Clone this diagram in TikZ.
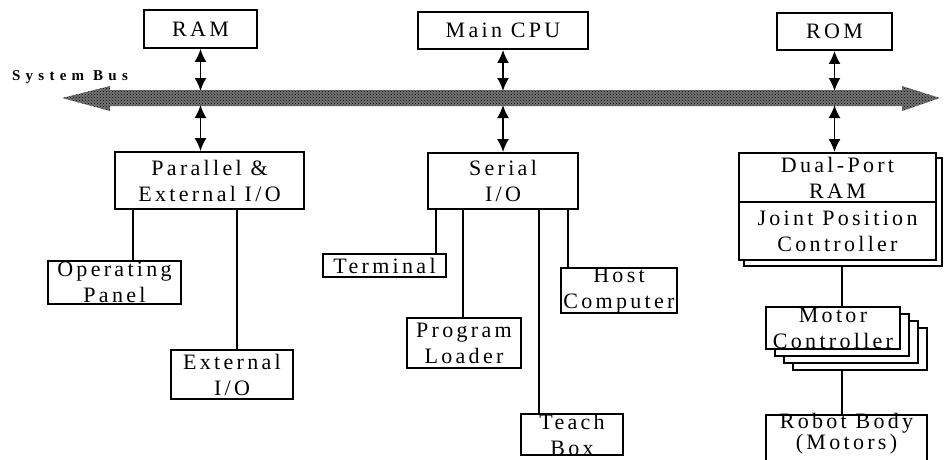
\documentclass[tikz,border=0pt]{standalone}
\usepackage{fontspec}
\setmainfont{Liberation Serif}
\newfontfamily\blkfont{Liberation Serif}[LetterSpace=15]
\newfontfamily\busfont{Liberation Serif}[LetterSpace=35]
\usetikzlibrary{arrows.meta,positioning,calc,patterns}

\begin{document}
\begin{tikzpicture}[x=1pt,y=-1pt,
  blk/.style={draw,line width=1.8pt,fill=white,align=center,inner sep=0pt,
    font=\blkfont\fontsize{22}{26}\selectfont},
  dblarr/.style={{Latex[length=13pt,width=12pt]}-{Latex[length=13pt,width=12pt]},line width=1.8pt},
  link/.style={line width=1.1pt}
]
  \useasboundingbox (0,0) rectangle (944,459);
  \clip (0,0) rectangle (944,459);
  % system bus
  \fill[black!55] (62,98) -- (110,86) -- (110,90) -- (902,90) -- (902,86) -- (940,98)
    -- (902,111) -- (902,106) -- (110,106) -- (110,111) -- cycle;
  \fill[pattern=crosshatch dots,pattern color=black] (62,98) -- (110,86) -- (110,90) -- (902,90)
    -- (902,86) -- (940,98) -- (902,111) -- (902,106) -- (110,106) -- (110,111) -- cycle;
  \node[font=\busfont\bfseries\fontsize{15}{17}\selectfont] (buslbl) at (70,77) {System Bus};
  \coordinate (bustop) at (0,91);
  \coordinate (busbot) at (0,105);
  % top row
  \node[blk,minimum width=113pt,minimum height=38pt] (ram) at (200.5,29) {RAM};
  \node[blk,minimum width=170pt,minimum height=37pt] (cpu) at (503,30.5) {Main CPU};
  \node[blk,minimum width=115pt,minimum height=37pt] (rom) at (834.5,31.5) {ROM};
  % interfaces
  \node[blk,minimum width=189pt,minimum height=57pt] (par) at (209.5,180.5) {Parallel \&\\External I/O};
  \node[blk,minimum width=150pt,minimum height=56pt] (ser) at (503,181) {Serial\\I/O};
  \node[blk,minimum width=198pt,minimum height=108pt] (dpsh) at (843,212) {};
  \node[blk,minimum width=197pt,minimum height=49pt] (dpr) at (837.5,177.5) {Dual-Port\\RAM};
  \node[blk,minimum width=197pt,minimum height=58pt] (jpc) at (837.5,231) {Joint Position\\Controller};
  % bus connections
  \draw[dblarr] (ram.south) -- (ram.south |- bustop);
  \draw[dblarr] (ram.south |- busbot) -- (ram.south |- par.north);
  \draw[dblarr] (cpu.south) -- (cpu.south |- bustop);
  \draw[dblarr] (cpu.south |- busbot) -- (cpu.south |- ser.north);
  \draw[dblarr] (rom.south) -- (rom.south |- bustop);
  \draw[dblarr] (rom.south |- busbot) -- (rom.south |- dpr.north);
  % parallel side
  \node[blk,minimum width=133pt,minimum height=43pt] (op) at (114.5,282.5) {Operating\\Panel};
  \node[blk,minimum width=122pt,minimum height=49pt] (ext) at (232,374.5) {External\\I/O};
  \coordinate (opx) at (133,0);
  \coordinate (extx) at (237,0);
  \draw[link] (opx |- par.south) -- (opx |- op.north);
  \draw[link] (extx |- par.south) -- (extx |- ext.north);
  % serial side
  \node[blk,minimum width=123pt,minimum height=23pt] (term) at (384.5,265.5) {Terminal};
  \node[blk,minimum width=114pt,minimum height=50pt] (pl) at (464,343) {Program\\Loader};
  \node[blk,minimum width=102pt,minimum height=41pt] (teach) at (572,434.5) {Teach\\Box};
  \node[blk,minimum width=116pt,minimum height=45pt] (host) at (619,290.5) {Host\\Computer};
  \coordinate (termx) at (436,0);
  \coordinate (plx) at (463,0);
  \coordinate (teachx) at (539,0);
  \coordinate (hostx) at (568,0);
  \draw[link] (termx |- ser.south) -- (termx |- term.north);
  \draw[link] (plx |- ser.south) -- (plx |- pl.north);
  \draw[link] (teachx |- ser.south) -- (teachx |- teach.north);
  \draw[link] (hostx |- ser.south) -- (hostx |- host.north);
  % motor side
  \foreach \k in {3,2,1}
    \node[blk,minimum width=134pt,minimum height=42pt] (mc\k) at (833+9*\k,328+7*\k) {};
  \node[blk,minimum width=134pt,minimum height=42pt] (mc) at (833,328) {Motor\\Controller};
  \node[minimum width=161pt,inner sep=0pt,align=center,
    font=\blkfont\fontsize{22}{20}\selectfont] (robot) at (846.5,434) {Robot Body\\(Motors)};
  \coordinate (rbtop) at (0,415);
  \draw[line width=1.8pt] ($(robot.west)+(0,40)$) |- (robot.east |- rbtop)
    -- ($(robot.east)+(0,40)$);
  \coordinate (mcx) at (842,0);
  \draw[link] (mcx |- dpsh.south) -- (mcx |- mc.north);
  \draw[link] (mcx |- mc3.south) -- (mcx |- rbtop);
\end{tikzpicture}
\end{document}
